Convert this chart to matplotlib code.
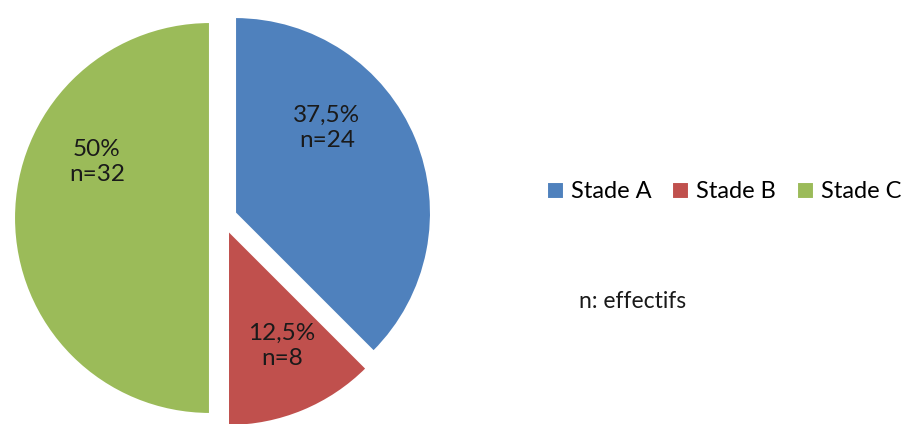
import matplotlib
matplotlib.use("Agg")
import matplotlib.pyplot as plt

categories = ["Stade A", "Stade B", "Stade C"]
percents = [37.5, 12.5, 50.0]
counts = [24, 8, 32]
pct_labels = ["37,5%", "12,5%", "50%"]
colors = ["#4F81BD", "#C0504D", "#9BBB59"]

W, H = 901, 424
fig = plt.figure(figsize=(W / 100, H / 100), dpi=100)
ax = fig.add_axes([0, 0, 1, 1])

wedges, _ = ax.pie(
    percents,
    colors=colors,
    startangle=90,
    counterclock=False,
    explode=[13] * 3,
    center=(223, H - 218),
    radius=196,
    wedgeprops=dict(edgecolor="white", linewidth=1.5),
    frame=True,
)
ax.set_xlim(0, W)
ax.set_ylim(0, H)
ax.axis("off")

font = "Lato"
label_pos = [(327, H - 128), (282, H - 346), (97, H - 162)]
for (x, y), p, n in zip(label_pos, pct_labels, counts):
    ax.text(x, y, f"{p}\nn={n}", ha="center", va="center", fontsize=17.5,
            family=font, color="#1a1a1a", linespacing=1.2)

leg = fig.legend(wedges, categories, loc="center left",
                 bbox_to_anchor=(547 / W, 1 - 192 / H), ncol=3, frameon=False,
                 prop=dict(family=font, size=17), handlelength=0.7,
                 handleheight=0.7, handletextpad=0.3, columnspacing=0.9,
                 borderaxespad=0, borderpad=0)

fig.text(579 / W, 1 - 302 / H, "n: effectifs", ha="left", va="center",
         fontsize=16.5, family=font, color="#1a1a1a")

fig.savefig("out.png", dpi=100)
